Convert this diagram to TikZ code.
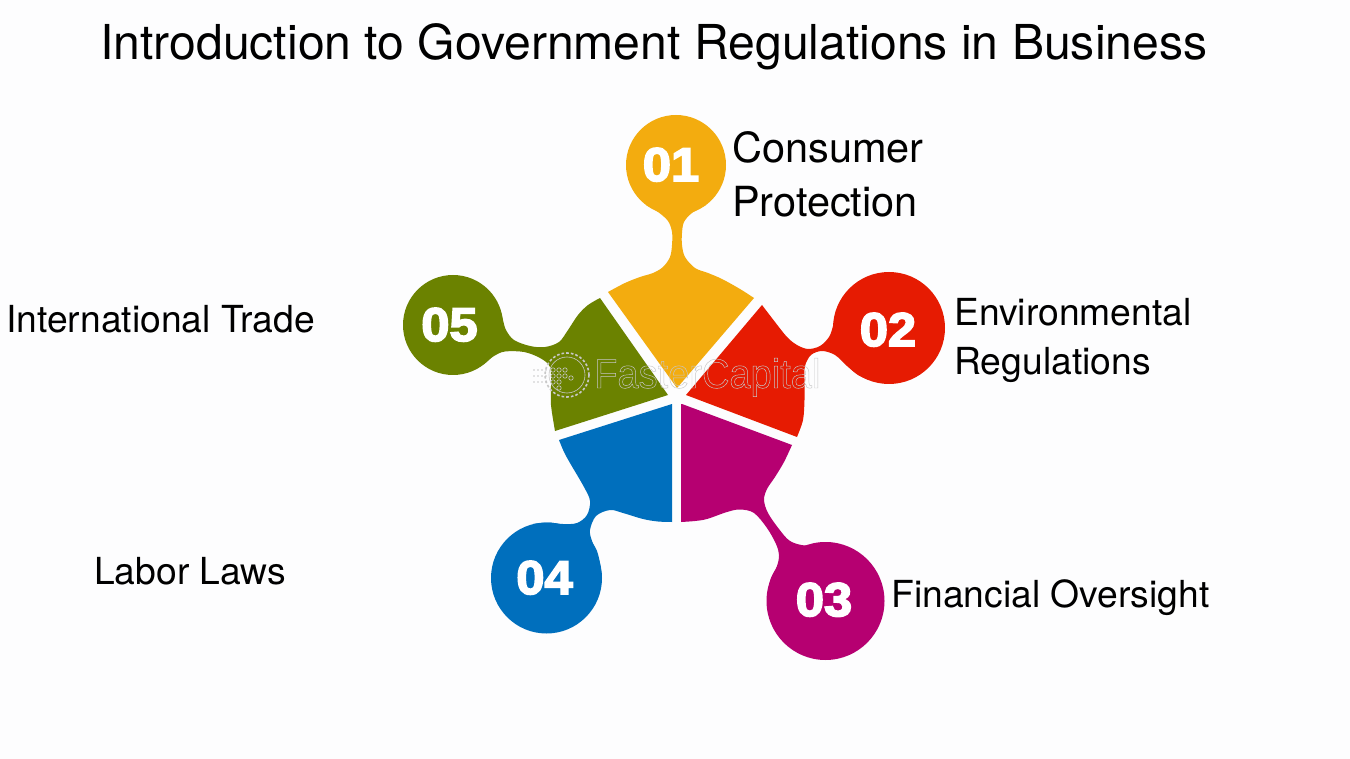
\documentclass[tikz,border=0pt]{standalone}
\usepackage{fontspec}
\setmainfont{TeX Gyre Heros}
\newfontfamily\numfont[FakeBold=3.6,FakeStretch=1.07]{Liberation Sans Bold}
\newfontfamily\wmfont[FakeStretch=.92]{Liberation Sans}
\definecolor{bgc}{HTML}{FDFDFE}
\definecolor{cyel}{HTML}{F3AC0F}
\definecolor{cred}{HTML}{E61B02}
\definecolor{cmag}{HTML}{B60071}
\definecolor{cblu}{HTML}{006FBD}
\definecolor{cgrn}{HTML}{6B8200}
\definecolor{wmc}{HTML}{C8C8C8}
\tikzset{
  title/.style={anchor=base west,inner sep=0,text=black,font=\fontsize{36.1}{37}\selectfont},
  lblbig/.style={anchor=base west,inner sep=0,text=black,font=\fontsize{31.1}{31}\selectfont},
  lblmid/.style={anchor=base west,inner sep=0,text=black,font=\fontsize{27.95}{28}\selectfont},
  numtxt/.style={anchor=base,inner sep=0,text=white,font=\numfont\fontsize{35.5}{36}\selectfont},
  wmtxt/.style={anchor=base west,inner sep=0,text=wmc,font=\wmfont\fontsize{31}{31}\selectfont},
  sm/.style={smooth,tension=.55}
}
\begin{document}
\begin{tikzpicture}[x=.75pt,y=-.75pt]
\useasboundingbox (0,0) rectangle (1350,759);
\fill[bgc] (0,0) rectangle (1350,759);
% 01 yellow
\fill[cyel] (676,165) circle (50);
\fill[cyel] (677,388) -- (608,292) -- plot[sm] coordinates {(608,292) (625,283) (640,277) (653,273) (663,267) (670,257) (672,245) (672,232) (668,221) (658,212) (646,205)}
  -- plot[sm] coordinates {(706,205) (692,213) (684,222) (682,233) (682,245) (685,257) (695,268) (708,273) (722,279) (740,289) (754,298)} -- cycle;
% 02 red
\fill[cred] (889,328) circle (56);
\fill[cred] (686,395) -- (762,305) -- plot[sm] coordinates {(762,305) (775,322) (787,337) (797,345) (808,349) (820,346) (829,337) (833,326) (836,313) (841,300)}
  -- plot[sm] coordinates {(869,380) (858,375) (847,366) (835,355) (822,351) (811,355) (805,366) (804.5,380) (804.5,400) (803,420) (797,437)} -- cycle;
% 03 magenta
\fill[cmag] (825.5,601) circle (59);
\fill[cmag] (682,404) -- (792,445) -- plot[sm] coordinates {(792,445) (784,462) (775,477) (767,489) (764,500) (768,513) (779,529) (790,541) (805,545.5) (818,543) (832,542.5)}
  -- plot[sm] coordinates {(768,590) (771,578) (777,566) (779,555) (776,544) (767,528) (754,513) (740,509.5) (727,512) (707,519) (695,521) (681,522)} -- (681,404) -- cycle;
% 04 blue
\fill[cblu] (546.5,578) circle (55.5);
\fill[cblu] (672,404) -- (672,522) -- plot[sm] coordinates {(672,522) (658,521.5) (643,519) (623,513) (610,510) (596,516) (590,530) (592,541) (597,551) (600,563) (601.5,575)}
  -- plot[sm] coordinates {(533,524) (548,522.5) (563,524) (577,523) (587,515) (590,501) (584,487) (570,463) (564,452) (559,440)} -- cycle;
% 05 green
\fill[cgrn] (453,325) circle (50);
\fill[cgrn] (668,395) -- (600,298) -- plot[sm] coordinates {(600,298) (588,305) (578,315) (568,330) (559,342) (545,347) (530,346) (514,340) (506,330) (503,320) (501,312) (497,302)}
  -- plot[sm] coordinates {(474,370) (484,364) (494,356) (505,351.5) (524,352) (540,358) (550,367) (551,385) (551,405) (555,431)} -- cycle;
% watermark
\begin{scope}[wmc,line width=.45pt]
  \draw[dash pattern=on 2pt off 1.5pt,line width=1.2pt] (567,375) circle (22);
  \draw (567,375) circle (18);
  \foreach \px/\py in {553/370,559/370,553/376,559/376,565/376,553/382,559/382,565/370,559/388,571/378}{\draw (\px,\py) circle (2.2);}
  \foreach \py in {370,376,382}{\foreach \px in {534,538,542,546}{\fill (\px,\py) circle (.9);}}
\end{scope}
\node[wmtxt] (wm) at (594,388) {\special{pdf:code 1 Tr 0.35 w 0.78 G}FasterCapital\special{pdf:code 0 Tr}};
% texts
\node[title] (ttl) at (100,60) {Introduction to Government Regulations in Business};
\node[lblbig] (c1) at (732,163) {Consumer};
\node[lblbig] (c2) at (732,217) {Protection};
\node[lblmid] (e1) at (954,326) {Environmental};
\node[lblmid] (e2) at (954,374) {Regulations};
\node[lblmid] (f1) at (891,607) {Financial Oversight};
\node[lblmid] (l1) at (94,584) {Labor Laws};
\node[lblmid] (i1) at (6,333) {International Trade};
\node[numtxt] (n1) at (671,181) {01};
\node[numtxt] (n2) at (888,346) {02};
\node[numtxt] (n3) at (824,616) {03};
\node[numtxt] (n4) at (544.5,594) {04};
\node[numtxt] (n5) at (449.5,341) {05};
\end{tikzpicture}
\end{document}
